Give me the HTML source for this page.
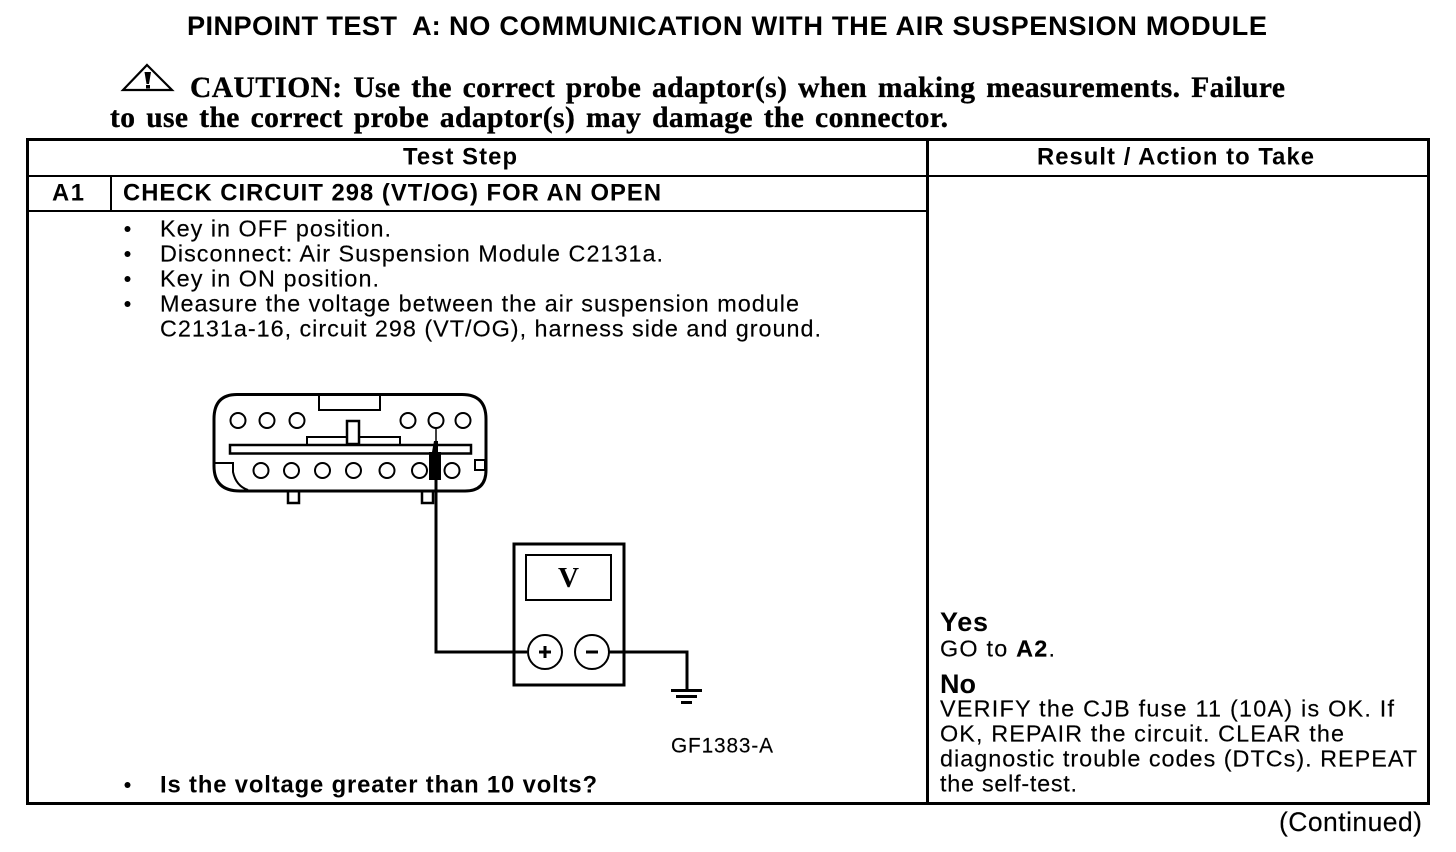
<!DOCTYPE html>
<html>
<head>
<meta charset="utf-8">
<style>
html,body{margin:0;padding:0;background:#fff;width:1456px;height:852px;overflow:hidden}
svg{display:block}
text{fill:#000;font-family:"Liberation Sans",sans-serif}
.b{font-weight:bold}
.s{font-family:"Liberation Serif",serif;font-weight:bold;font-size:29.5px;word-spacing:3px;stroke:#000;stroke-width:.35px}
.t{font-size:23.400px;stroke:#000;stroke-width:.15px}
.h{font-weight:bold;font-size:23.800px}
.l{fill:none;stroke:#000}
</style>
</head>
<body>
<svg width="1456" height="852" viewBox="0 0 1456 852" xmlns="http://www.w3.org/2000/svg">
<text class="b" x="187" y="35" font-size="27.200" textLength="210" lengthAdjust="spacing">PINPOINT TEST</text>
<text class="b" x="412" y="35" font-size="27.200">A:</text>
<text class="b" x="449" y="35" font-size="27.200" textLength="818" lengthAdjust="spacing">NO COMMUNICATION WITH THE AIR SUSPENSION MODULE</text>

<!-- caution -->
<path class="l" stroke-width="2.200" d="M147 65 L172 90 L123 90 Z"/>
<path d="M144.500 72 L151 72 L149 84 L146.500 84 Z" fill="#000"/>
<rect x="146" y="85" width="4" height="3.500" fill="#000"/>
<text class="s" x="190" y="97" textLength="1095" lengthAdjust="spacing">CAUTION: Use the correct probe adaptor(s) when making measurements. Failure</text>
<text class="s" x="110" y="127" textLength="838" lengthAdjust="spacing">to use the correct probe adaptor(s) may damage the connector.</text>

<!-- table -->
<g shape-rendering="crispEdges" fill="#000">
<rect x="27" y="138" width="1402" height="3"/>
<rect x="27" y="175" width="1402" height="2"/>
<rect x="27" y="210" width="901" height="2"/>
<rect x="27" y="802" width="1402" height="3"/>
<rect x="26" y="138" width="3" height="667"/>
<rect x="1427" y="138" width="3" height="667"/>
<rect x="926" y="138" width="3" height="667"/>
<rect x="110" y="176" width="2" height="35"/>
</g>

<text class="h" x="403" y="164.500" textLength="114" lengthAdjust="spacing">Test Step</text>
<text class="h" x="1037" y="164.500" textLength="277" lengthAdjust="spacing">Result / Action to Take</text>
<text class="h" x="52" y="200.500" textLength="32" lengthAdjust="spacing">A1</text>
<text class="h" x="123" y="200.500" textLength="538" lengthAdjust="spacing">CHECK CIRCUIT 298 (VT/OG) FOR AN OPEN</text>

<!-- steps -->
<g fill="#000">
<circle cx="127.500" cy="229" r="3"/><circle cx="127.500" cy="254" r="3"/><circle cx="127.500" cy="279" r="3"/><circle cx="127.500" cy="304" r="3"/><circle cx="127.500" cy="785" r="3"/>
</g>
<text class="t" x="160" y="236.500" textLength="231" lengthAdjust="spacing">Key in OFF position.</text>
<text class="t" x="160" y="261.500" textLength="503" lengthAdjust="spacing">Disconnect: Air Suspension Module C2131a.</text>
<text class="t" x="160" y="286.500" textLength="219" lengthAdjust="spacing">Key in ON position.</text>
<text class="t" x="160" y="311.500" textLength="639" lengthAdjust="spacing">Measure the voltage between the air suspension module</text>
<text class="t" x="160" y="336.500" textLength="661" lengthAdjust="spacing">C2131a-16, circuit 298 (VT/OG), harness side and ground.</text>
<text class="h" x="160" y="792.500" textLength="437" lengthAdjust="spacing">Is the voltage greater than 10 volts?</text>

<!-- connector -->
<path class="l" stroke-width="3" d="M237 394.500 H462 Q486 394.500 486 419 V470 Q486 491 465 491 H240 Q214 491 214 466 V419 Q214 394.500 237 394.500 Z"/>
<path class="l" stroke-width="2" d="M319 395 V410 H380 V395"/>
<path class="l" stroke-width="2" d="M214 463 H233 V472 Q236 486 248 490"/>
<rect class="l" stroke-width="2" x="475" y="460" width="10" height="10"/>
<rect class="l" stroke-width="2.500" x="230" y="445" width="241" height="8.500"/>
<path class="l" stroke-width="2" d="M307 445 V437 H347 M359 437 H400 V445"/>
<rect class="l" stroke-width="2.500" x="347" y="421" width="12" height="23"/>
<path class="l" stroke-width="2.500" d="M288 492 V503 H299 V492 M422 492 V503 H433 V492"/>
<g fill="none" stroke="#000" stroke-width="2">
<circle cx="238" cy="420.500" r="7.500"/>
<circle cx="267" cy="420.500" r="7.500"/>
<circle cx="297" cy="420.500" r="7.500"/>
<circle cx="408" cy="420.500" r="7.500"/>
<circle cx="436" cy="420.500" r="7.500"/>
<circle cx="463" cy="420.500" r="7.500"/>
<circle cx="261" cy="470.500" r="7.500"/>
<circle cx="291.500" cy="470.500" r="7.500"/>
<circle cx="322.500" cy="470.500" r="7.500"/>
<circle cx="353.500" cy="470.500" r="7.500"/>
<circle cx="387" cy="470.500" r="7.500"/>
<circle cx="419.500" cy="470.500" r="7.500"/>
<circle cx="452" cy="470.500" r="7.500"/>
</g>
<!-- probe -->
<path class="l" stroke-width="1.500" d="M436 428 V445"/>
<path d="M434 441 H438 V452 H441 V480 H429 V452 H432 Z" fill="#000"/>
<path class="l" stroke-width="3" d="M436 480 V652 H527"/>

<!-- meter -->
<rect class="l" stroke-width="3" x="514" y="544" width="110" height="141"/>
<rect class="l" stroke-width="2" x="526" y="555" width="85" height="45"/>
<text x="558" y="587" font-size="29" font-weight="bold" textLength="21" lengthAdjust="spacingAndGlyphs" style="font-family:'Liberation Serif',serif">V</text>
<circle class="l" stroke-width="2" cx="545" cy="652" r="17"/>
<circle class="l" stroke-width="2" cx="592" cy="652" r="17"/>
<path class="l" stroke-width="3" d="M539 652 H551 M545 646 V658"/>
<path class="l" stroke-width="3" d="M586 652 H598"/>
<path class="l" stroke-width="3" d="M609 652 H687 V690"/>
<g fill="#000" shape-rendering="crispEdges">
<rect x="671" y="689" width="31" height="3"/>
<rect x="676" y="695" width="21" height="3"/>
<rect x="681" y="701" width="11" height="3"/>
</g>
<text x="671" y="752.500" font-size="20.800" textLength="102" lengthAdjust="spacing" stroke="#000" stroke-width=".15">GF1383-A</text>

<!-- results -->
<text class="b" x="940" y="631" font-size="27" textLength="48" lengthAdjust="spacing">Yes</text>
<text class="t" x="940" y="656.500" textLength="115" lengthAdjust="spacing">GO to <tspan class="b">A2</tspan>.</text>
<text class="b" x="940" y="693" font-size="27" textLength="36" lengthAdjust="spacing">No</text>
<text class="t" x="940" y="716.500" textLength="454" lengthAdjust="spacing">VERIFY the CJB fuse 11 (10A) is OK. If</text>
<text class="t" x="940" y="741.500" textLength="404" lengthAdjust="spacing">OK, REPAIR the circuit. CLEAR the</text>
<text class="t" x="940" y="766.500" textLength="477" lengthAdjust="spacing">diagnostic trouble codes (DTCs). REPEAT</text>
<text class="t" x="940" y="791.500" textLength="137" lengthAdjust="spacing">the self-test.</text>
<text x="1279" y="831" font-size="26.500" textLength="143" lengthAdjust="spacing" stroke="#000" stroke-width=".15">(Continued)</text>
</svg>
</body>
</html>
